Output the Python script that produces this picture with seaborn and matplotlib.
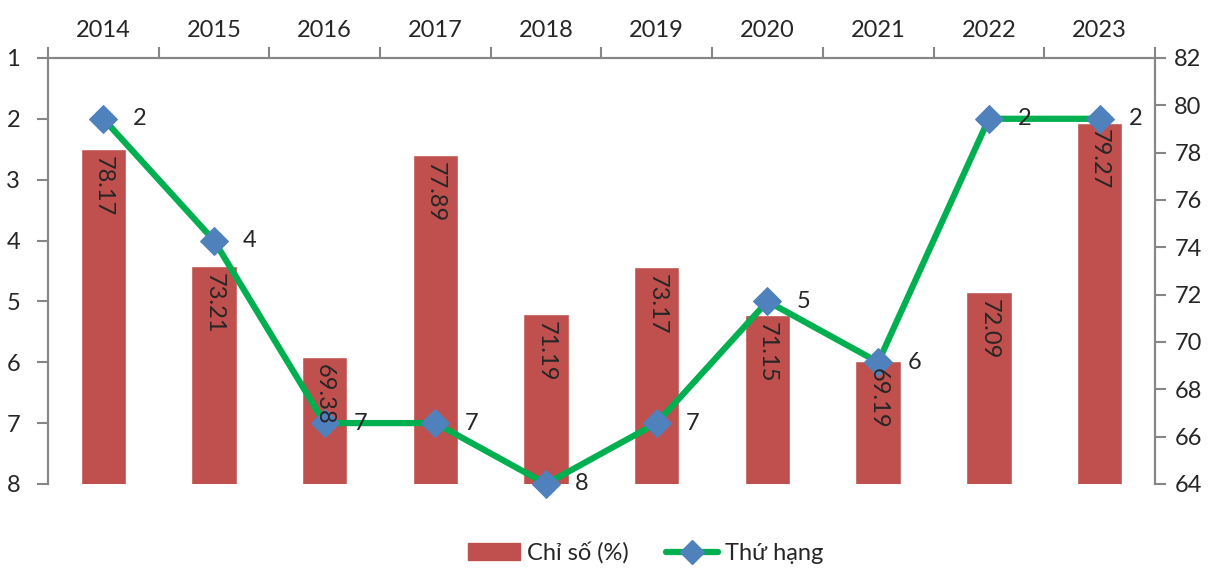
import matplotlib
matplotlib.use("Agg")
import matplotlib.pyplot as plt
from matplotlib.patches import Patch
from matplotlib.lines import Line2D
import seaborn as sns
import pandas as pd

# ==================================================
# Dữ liệu
# ==================================================
nam = ['2014', '2015', '2016', '2017', '2018', '2019', '2020', '2021', '2022', '2023']
chi_so = [78.17, 73.21, 69.38, 77.89, 71.19, 73.17, 71.15, 69.19, 72.09, 79.27]
thu_hang = [2, 4, 7, 7, 8, 7, 5, 6, 2, 2]

MAU_COT = '#C0504D'
MAU_DUONG = '#00B050'
MAU_DIEM = '#4F81BD'
MAU_TRUC = '#868686'

sns.set_style('white')
plt.rcParams['font.family'] = ['Lato', 'DejaVu Sans']
plt.rcParams['font.size'] = 17

df = pd.DataFrame({'Năm': nam, 'Chỉ số': chi_so, 'Thứ hạng': thu_hang})
df['x'] = range(len(nam))

fig = plt.figure(figsize=(12.18, 5.68), dpi=100)
ax = fig.add_axes([0.0394, 0.148, 0.9088, 0.750])

# Cột: chỉ số (trục phải)
sns.barplot(data=df, x='x', y='Chỉ số', color=MAU_COT, width=0.41,
            saturation=1, ax=ax, native_scale=True)
ax.set_ylim(64, 82)
ax.set_yticks(range(64, 83, 2))
ax.yaxis.tick_right()

# Đường: thứ hạng (trục trái, đảo ngược)
ax2 = ax.twinx()
sns.lineplot(data=df, x='x', y='Thứ hạng', ax=ax2, color=MAU_DUONG, lw=4.5,
             marker='D', markersize=14, markerfacecolor=MAU_DIEM,
             markeredgecolor=MAU_DIEM, legend=False, clip_on=False)
ax2.set_ylim(8, 1)
ax2.set_yticks(range(1, 9))
ax2.yaxis.tick_left()

for a in (ax, ax2):
    a.set_xlim(-0.5, len(nam) - 0.5)
    a.set_xlabel('')
    a.set_ylabel('')
    for s in a.spines.values():
        s.set_color(MAU_TRUC)
        s.set_linewidth(1.5)
    a.spines['bottom'].set_visible(False)

ax.yaxis.set_label_position('right')
ax2.yaxis.set_label_position('left')
ax.tick_params(axis='y', which='major', right=True, left=False, labelright=True,
               labelleft=False, direction='out', length=8, color=MAU_TRUC,
               width=1.5, pad=6)
ax2.tick_params(axis='y', which='major', left=True, right=False, labelleft=True,
                labelright=False, direction='out', length=8, color=MAU_TRUC,
                width=1.5, pad=12)

# Trục x ở trên, vạch chia giữa các năm
vach = [i - 0.5 for i in range(len(nam) + 1)]
for a in (ax, ax2):
    a.xaxis.tick_top()
    a.set_xticks(vach, labels=[''] * len(vach))
    a.set_xticks(range(len(nam)), labels=nam, minor=True)
    a.tick_params(axis='x', which='major', top=True, bottom=False, direction='out',
                  length=8, color=MAU_TRUC, width=1.5, labelbottom=False)
    a.tick_params(axis='x', which='minor', top=True, bottom=False, length=0,
                  labeltop=True, labelbottom=False, pad=12)
ax2.tick_params(axis='x', which='both', labeltop=False)

# Nhãn giá trị cột
for xi, v in zip(df['x'], chi_so):
    ax2.annotate(f'{v:.2f}', xy=(xi, v), xycoords=ax.transData,
                 xytext=(0, -5), textcoords='offset points', rotation=-90,
                 ha='center', va='top', fontsize=17)

# Nhãn thứ hạng
for xi, r in zip(df['x'], thu_hang):
    ax2.annotate(str(r), xy=(xi, r), xytext=(21, 0), textcoords='offset points',
                 ha='left', va='center', fontsize=17)

# Chú giải
handles = [Patch(color=MAU_COT),
           Line2D([], [], color=MAU_DUONG, lw=4.5, marker='D', markersize=12,
                  markerfacecolor=MAU_DIEM, markeredgecolor=MAU_DIEM)]
fig.legend(handles, ['Chỉ số (%)', 'Thứ hạng'], loc='lower center',
           bbox_to_anchor=(0.53, -0.03), ncol=2, frameon=False, fontsize=17,
           handlelength=2.2, columnspacing=1.6, handletextpad=0.3)

fig.savefig('out.png', dpi=100)
